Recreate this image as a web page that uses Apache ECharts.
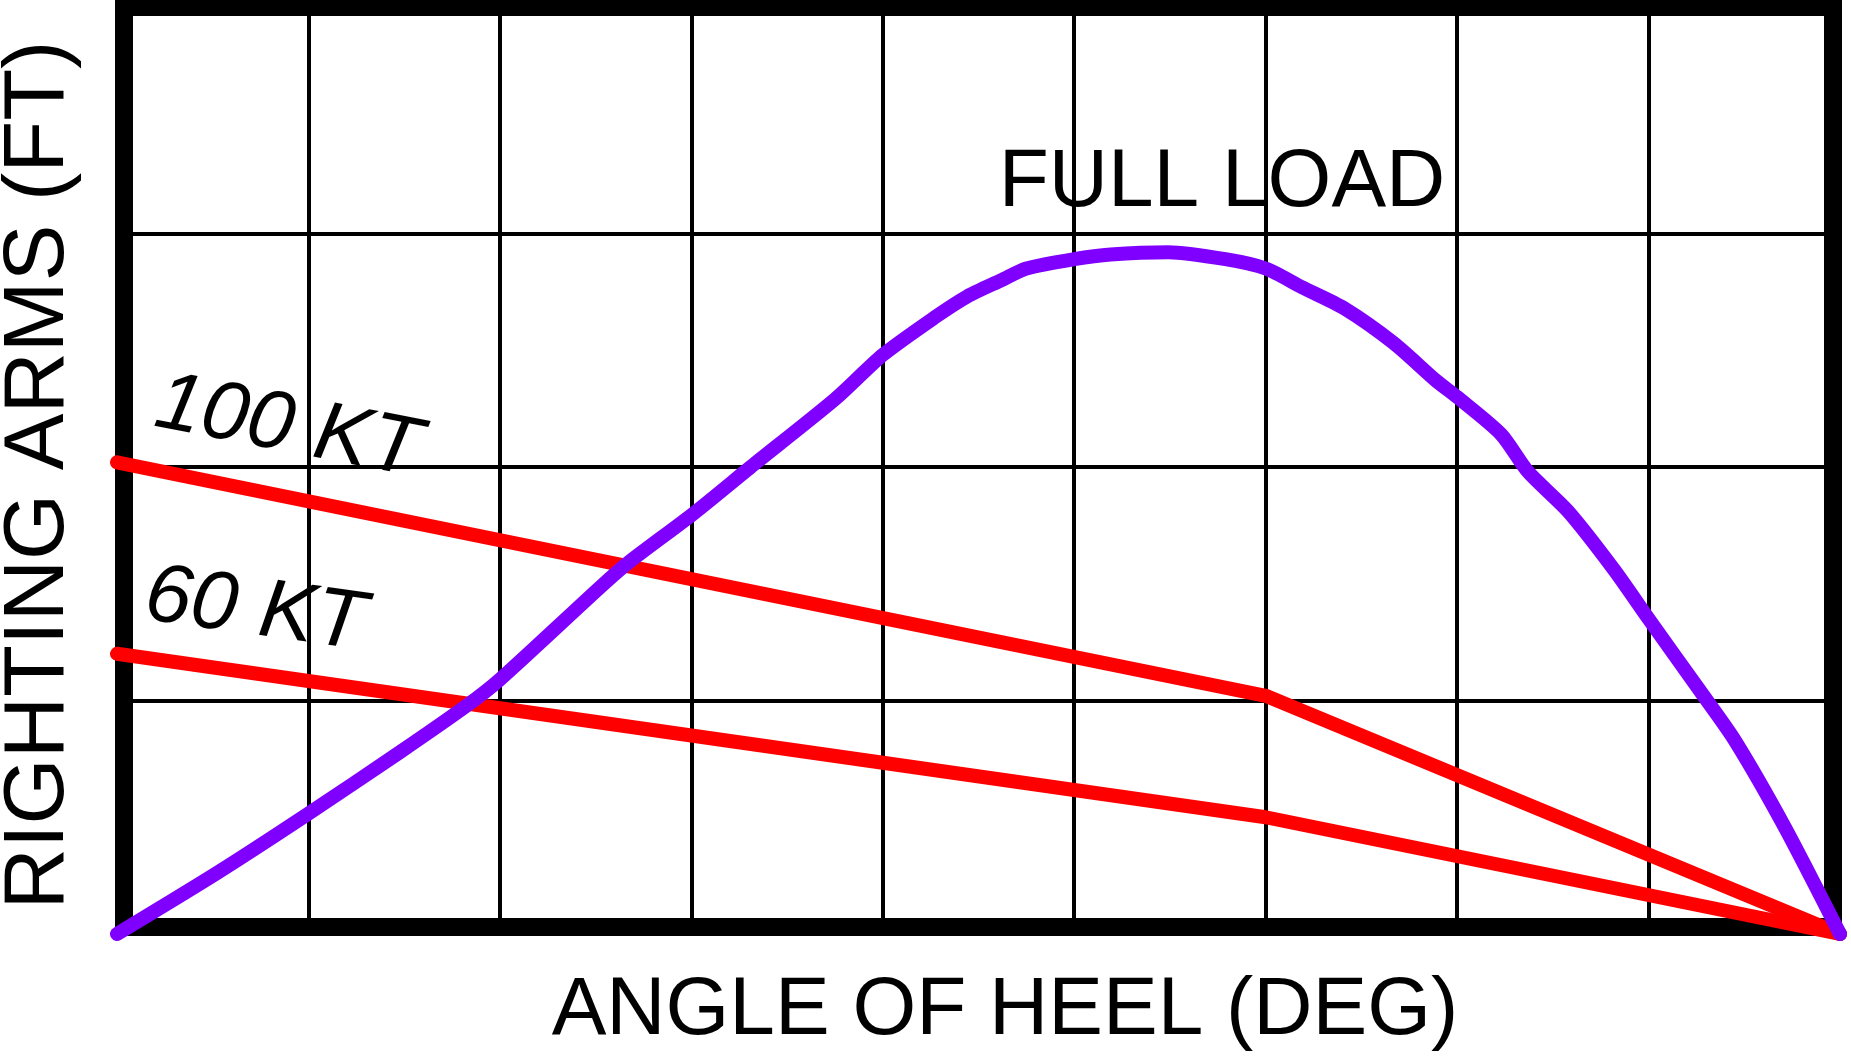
<!DOCTYPE html>
<html>
<head>
<meta charset="utf-8">
<title>Righting Arms vs Angle of Heel</title>
<script src="https://cdn.jsdelivr.net/npm/echarts@6/dist/echarts.min.js"></script>
<style>
  html, body { margin: 0; padding: 0; background: #ffffff; }
  #chart { width: 1851px; height: 1060px; }
</style>
</head>
<body>
<div id="chart"></div>
<script>
// Righting-arm curve at full load (heel angle in degrees, arm in plot units)
const fullLoadHeel = [0, 5.2, 9.9, 14.8, 18.3, 20.0, 25.3, 26.7, 30.1, 33.1, 37.5, 40.0, 42.7, 44.4, 46.2, 47.5,
                      50.0, 51.9, 54.9, 57.9, 60.0, 61.9, 64.1, 66.7, 68.9, 70.0, 72.3, 73.7, 75.8, 78.2, 80.0,
                      82.7, 84.5, 87.1, 90];
const fullLoadArm  = [0, 0.26, 0.51, 0.78, 0.98, 1.09, 1.49, 1.59, 1.80, 2.00, 2.29, 2.48, 2.64, 2.73, 2.80, 2.85,
                      2.89, 2.91, 2.92, 2.89, 2.85, 2.77, 2.68, 2.53, 2.37, 2.30, 2.14, 1.98, 1.81, 1.56, 1.35,
                      1.04, 0.83, 0.46, 0];

// Wind heeling-arm curves
const wind100Heel = [0, 60, 90];
const wind100Arm  = [2.02, 1.02, 0];
const wind60Heel  = [0, 60, 90];
const wind60Arm   = [1.20, 0.50, 0];

const labels = {
  xTitle: 'ANGLE OF HEEL (DEG)',
  yTitle: 'RIGHTING ARMS (FT)',
  fullLoad: 'FULL LOAD',
  wind100: '100 KT',
  wind60: '60 KT'
};

const zip = (xs, ys) => xs.map((x, i) => [x, ys[i]]);

const FONT = '"Liberation Sans", Arial, Helvetica, sans-serif';
const RED = '#ff0000';
const VIOLET = '#8000ff';

function textEl(text, x, y, size, opts) {
  opts = opts || {};
  return {
    type: 'text',
    x: x,
    y: y,
    rotation: (opts.rotate || 0) * Math.PI / 180,
    z: 10,
    silent: true,
    style: {
      text: text,
      x: 0,
      y: 0,
      font: (opts.italic ? 'italic ' : '') + size + 'px ' + FONT,
      fill: '#000000',
      align: 'center',
      verticalAlign: 'middle',
      textAlign: 'center',
      textVerticalAlign: 'middle'
    }
  };
}

const lineSeries = (name, data, color, z, smooth) => ({
  name: name,
  type: 'line',
  xAxisIndex: 0,
  yAxisIndex: 0,
  data: data,
  symbol: 'none',
  smooth: smooth || false,
  clip: false,
  z: z,
  lineStyle: { color: color, width: 14, cap: 'round', join: 'round' }
});

const chart = echarts.init(document.getElementById('chart'), null, { renderer: 'canvas' });

chart.setOption({
  backgroundColor: '#ffffff',
  animation: false,
  grid: [
    // plotting area
    { left: 117, right: 11, top: 0, bottom: 126, show: false },
    // heavy outer frame, inset so its stroke sits inside the plotting area
    { left: 125, right: 19, top: 8, bottom: 134, show: true,
      borderColor: '#000000', borderWidth: 16, backgroundColor: 'transparent' }
  ],
  xAxis: [
    {
      type: 'value', gridIndex: 0, min: 0, max: 90, interval: 10,
      axisLine: { show: false }, axisTick: { show: false }, axisLabel: { show: false },
      splitLine: { show: true, lineStyle: { color: '#000000', width: 4 } }
    },
    { type: 'value', gridIndex: 1, show: false, min: 0, max: 1, splitLine: { show: false } }
  ],
  yAxis: [
    {
      type: 'value', gridIndex: 0, min: 0, max: 4, interval: 1,
      axisLine: { show: false }, axisTick: { show: false }, axisLabel: { show: false },
      splitLine: { show: true, lineStyle: { color: '#000000', width: 4 } }
    },
    { type: 'value', gridIndex: 1, show: false, min: 0, max: 1, splitLine: { show: false } }
  ],
  series: [
    lineSeries(labels.wind100, zip(wind100Heel, wind100Arm), RED, 3),
    lineSeries(labels.wind60, zip(wind60Heel, wind60Arm), RED, 3),
    lineSeries(labels.fullLoad, zip(fullLoadHeel, fullLoadArm), VIOLET, 4, 0.25)
  ],
  graphic: [
    textEl(labels.xTitle, 1005, 1011, 82),
    textEl(labels.yTitle, 40, 475, 85, { rotate: 90 }),
    textEl(labels.fullLoad, 1222, 183, 82),
    textEl(labels.wind100, 288, 428, 83, { italic: true, rotate: -11 }),
    textEl(labels.wind60, 255, 611, 83, { italic: true, rotate: -8 })
  ]
});
</script>
</body>
</html>
